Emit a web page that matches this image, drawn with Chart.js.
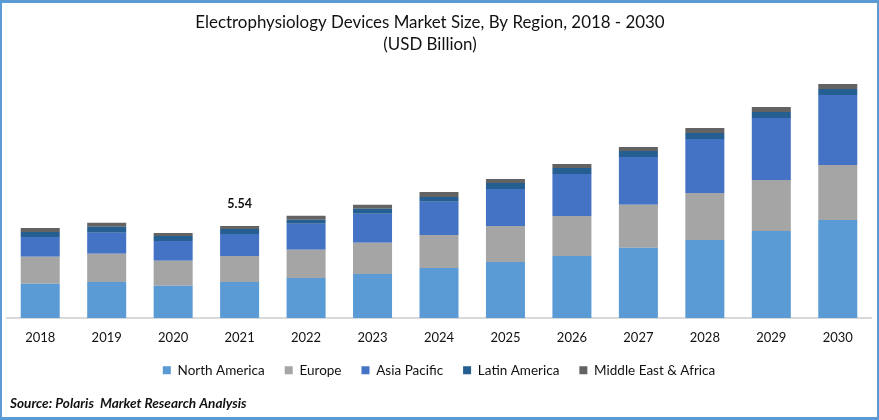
<!DOCTYPE html>
<html>
<head>
<meta charset="utf-8">
<title>Electrophysiology Devices Market Size</title>
<script src="https://cdn.jsdelivr.net/npm/chart.js@4"></script>
<style>
    html, body { margin: 0; padding: 0; background: #fff; }
    #wrap { position: relative; width: 879px; height: 420px; overflow: hidden; }
    #frame { position: absolute; left: 0; top: 0; right: 0; bottom: 0; box-sizing: border-box;
        border: 2px solid #5b9bd5; border-top-width: 3px; border-bottom-width: 3px; pointer-events: none; }
</style>
</head>
<body>
<div id="wrap">
    <canvas id="chart" width="879" height="420"></canvas>
    <div id="frame"></div>
</div>
<script>
const years = ['2018', '2019', '2020', '2021', '2022', '2023', '2024', '2025', '2026', '2027', '2028', '2029', '2030'];
const northAmerica = [2.05, 2.17, 1.93, 2.17, 2.41, 2.65, 3.01, 3.37, 3.73, 4.22, 4.70, 5.24, 5.90];
const europe = [1.63, 1.69, 1.51, 1.56, 1.69, 1.87, 1.99, 2.17, 2.41, 2.59, 2.83, 3.07, 3.31];
const asiaPacific = [1.20, 1.27, 1.20, 1.33, 1.57, 1.75, 1.99, 2.23, 2.53, 2.89, 3.25, 3.73, 4.22];
const latinAmerica = [0.30, 0.36, 0.30, 0.30, 0.24, 0.30, 0.30, 0.36, 0.36, 0.36, 0.36, 0.36, 0.36];
const middleEastAfrica = [0.24, 0.24, 0.18, 0.18, 0.24, 0.24, 0.30, 0.24, 0.24, 0.24, 0.30, 0.30, 0.30];

const titleLines = ['Electrophysiology Devices Market Size, By Region, 2018 - 2030', '(USD Billion)'];
const sourceNote = 'Source: Polaris  Market Research Analysis';
const labelledYear = '2021';
const labelledValue = '5.54';

const fontName = 'Lato, Carlito, "Open Sans", sans-serif';

// the 5.54 above the 2021 bar and the source line are not something Chart.js has an option for
const notesPlugin = {
    id: 'notes',
    afterLayout(chart) {
        // title sits a bit left of the page centre in the original
        chart.titleBlock.right -= 18;
    },
    afterDraw(chart) {
        const ctx = chart.ctx;
        const i = years.indexOf(labelledYear);
        const total = northAmerica[i] + europe[i] + asiaPacific[i] + latinAmerica[i] + middleEastAfrica[i];
        ctx.save();
        ctx.fillStyle = '#111';
        ctx.textBaseline = 'middle';
        ctx.textAlign = 'center';
        ctx.font = 'bold 12.5px ' + fontName;
        ctx.fillText(labelledValue, chart.scales.x.getPixelForValue(i), chart.scales.y.getPixelForValue(total) - 22);
        ctx.textAlign = 'left';
        ctx.font = 'italic bold 13.6px ' + fontName;
        ctx.fillText(sourceNote, 10, 404);
        ctx.restore();
    }
};

const config = {
    type: 'bar',
    data: {
        labels: years,
        datasets: [
            { label: 'North America', data: northAmerica, backgroundColor: '#5b9bd5' },
            { label: 'Europe', data: europe, backgroundColor: '#a5a5a5' },
            { label: 'Asia Pacific', data: asiaPacific, backgroundColor: '#4472c4' },
            { label: 'Latin America', data: latinAmerica, backgroundColor: '#255e91' },
            { label: 'Middle East & Africa', data: middleEastAfrica, backgroundColor: '#636363' }
        ]
    },
    options: {
        responsive: false,
        animation: false,
        barPercentage: 0.587,
        categoryPercentage: 1,
        layout: { padding: { left: 7, right: 8, top: 0, bottom: 33 } },
        scales: {
            x: {
                stacked: true,
                grid: { display: false, drawTicks: false },
                border: { color: '#d9d9d9', width: 2 },
                ticks: { color: '#111', font: { family: fontName, size: 13 }, padding: 12, maxRotation: 0 },
                afterFit(scale) {
                    scale.height -= 14;
                }
            },
            y: {
                stacked: true,
                display: false,
                min: 0,
                max: 15.54
            }
        },
        plugins: {
            tooltip: { enabled: false },
            title: {
                display: true,
                text: titleLines,
                color: '#111',
                font: { family: fontName, size: 16.9, weight: 'normal', lineHeight: 1.3 },
                padding: { top: 12, bottom: 4 }
            },
            legend: {
                position: 'bottom',
                labels: {
                    color: '#111',
                    font: { family: fontName, size: 13.5 },
                    boxWidth: 8,
                    boxHeight: 8,
                    padding: 20
                }
            }
        }
    },
    plugins: [notesPlugin]
};

new Chart(document.getElementById('chart'), config);
</script>
</body>
</html>
